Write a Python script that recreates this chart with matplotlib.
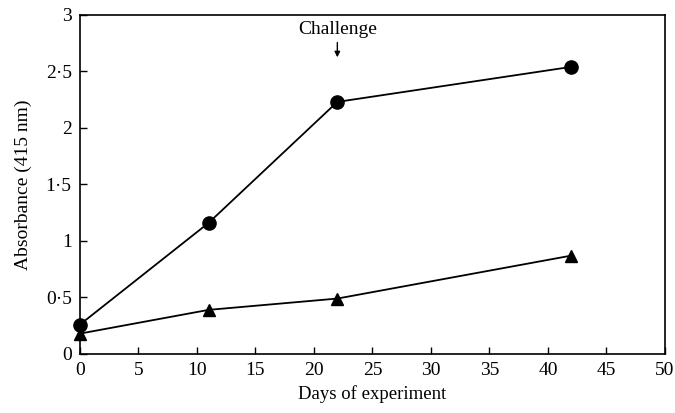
import matplotlib
matplotlib.use("Agg")
import matplotlib.pyplot as plt

days = [0, 11, 22, 42]
circle_vals = [0.26, 1.16, 2.23, 2.54]
triangle_vals = [0.18, 0.39, 0.49, 0.87]
xticks = [0, 5, 10, 15, 20, 25, 30, 35, 40, 45, 50]
yticks = [0, 0.5, 1, 1.5, 2, 2.5, 3]
ytick_labels = ["0", "0·5", "1", "1·5", "2", "2·5", "3"]

plt.rcParams['font.family'] = ['Liberation Serif', 'DejaVu Serif']
fig = plt.figure(figsize=(6.75, 4.13), dpi=100)
ax = fig.add_axes([0.1185, 0.143, 0.8665, 0.821])

ax.plot(days, circle_vals, color='black', lw=1.3, marker='o', markersize=9.5, clip_on=False, zorder=3)
ax.plot(days, triangle_vals, color='black', lw=1.3, marker='^', markersize=9, clip_on=False, zorder=3)

ax.set_xlim(0, 50)
ax.set_ylim(0, 3)
ax.set_xticks(xticks)
ax.set_yticks(yticks)
ax.set_yticklabels(ytick_labels)
ax.tick_params(direction='in', length=5, width=1, labelsize=14, pad=6)
for s in ax.spines.values():
    s.set_linewidth(1.2)

ax.set_xlabel("Days of experiment", fontsize=13.5, labelpad=4)
ax.set_ylabel("Absorbance (415 nm)", fontsize=14, labelpad=10)

ax.annotate("", xy=(22, 2.6), xytext=(22, 2.78),
            arrowprops=dict(arrowstyle='-|>', color='black', lw=1, mutation_scale=8))
ax.text(22, 2.87, "Challenge", ha='center', va='center', fontsize=14)

fig.savefig("out.png", dpi=100)
